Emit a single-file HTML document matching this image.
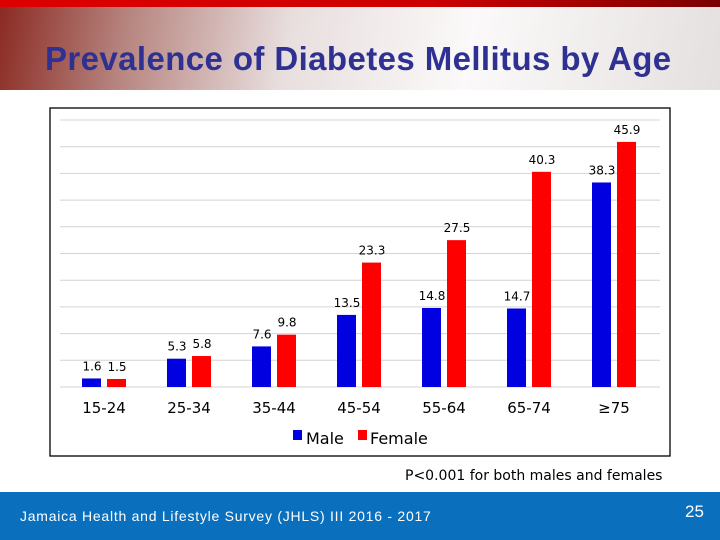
<!DOCTYPE html>
<html><head><meta charset="utf-8"><style>
body{margin:0;width:720px;height:540px;overflow:hidden;background:#fff;font-family:"Liberation Sans","DejaVu Sans",sans-serif;position:relative}
#hdr{position:absolute;left:0;top:0;width:720px;height:90px;background:linear-gradient(100deg,#8a2a22 0%,#b78580 18%,#e8dede 40%,#fbf9f9 65%,#e5e0e0 100%)}
#band{position:absolute;left:0;top:0;width:720px;height:7px;background:linear-gradient(90deg,#d00 0%,#c00 60%,#7a0000 100%)}
#title{position:absolute;left:45px;top:40px;font-size:33px;font-weight:bold;color:#2e3191;letter-spacing:0.4px;white-space:nowrap}
#foot{position:absolute;left:0;top:492px;width:720px;height:48px;background:#0a6fbd}
svg text{font-family:"DejaVu Sans","Liberation Sans",sans-serif}
</style></head><body>
<div id="hdr"></div>
<div id="band"></div>
<div id="title">Prevalence of Diabetes Mellitus by Age</div>
<svg id="chart" width="720" height="540" style="position:absolute;left:0;top:0">
<rect x="50" y="108" width="620" height="348" fill="#fff" stroke="#000" stroke-width="1.3"/>
<g id="grid"></g><g id="bars"></g><g id="labels"></g>
<rect x="293" y="430" width="9" height="10" fill="#0000e0"/>
<text x="306" y="444" font-size="16" fill="#000" font-family="Liberation Sans">Male</text>
<rect x="358" y="430" width="9" height="10" fill="#f00"/>
<text x="370" y="444" font-size="16" fill="#000" font-family="Liberation Sans">Female</text>
<text x="405" y="480" font-size="14" fill="#000">P&lt;0.001 for both males and females</text>
</svg>
<div id="foot">
<div style="position:absolute;left:20px;top:16px;color:#fff;font-size:14px;letter-spacing:0.75px">Jamaica Health and Lifestyle Survey (JHLS) III 2016 - 2017</div>
<div style="position:absolute;left:685px;top:10px;color:#fff;font-size:17px">25</div>
</div>
<script>
const categories=["15-24","25-34","35-44","45-54","55-64","65-74","\u226575"];
const male=[1.6,5.3,7.6,13.5,14.8,14.7,38.3];
const female=[1.5,5.8,9.8,23.3,27.5,40.3,45.9];
const yTicks=[0,5,10,15,20,25,30,35,40,45,50];
const NS="http://www.w3.org/2000/svg";
const base=387,top0=120,yMax=50;
function y(v){return base-(v/yMax)*(base-top0);}
function xc(i){return 104+i*85;}
function mk(t,a,p){const e=document.createElementNS(NS,t);for(const k in a)e.setAttribute(k,a[k]);p.appendChild(e);return e;}
const g=document.getElementById('grid'),b=document.getElementById('bars'),l=document.getElementById('labels');
yTicks.forEach(t=>{const e=mk('line',{x1:60,x2:660,y1:y(t),y2:y(t),stroke:'#d4d4d4','stroke-width':1},g);

});
categories.forEach((c,i)=>{
 const cx=xc(i);
 const m=mk('rect',{x:cx-22,y:y(male[i]),width:19,height:base-y(male[i]),fill:'#0000e0'},b);
 
 
 const f=mk('rect',{x:cx+3,y:y(female[i]),width:19,height:base-y(female[i]),fill:'#f00'},b);
 
 
 const ml=mk('text',{x:cx-12,y:y(male[i])-8,'font-size':12,'text-anchor':'middle',fill:'#000'},l);ml.textContent=male[i].toFixed(1);
 
 
 const fl=mk('text',{x:cx+13,y:y(female[i])-8,'font-size':12,'text-anchor':'middle',fill:'#000'},l);fl.textContent=female[i].toFixed(1);
 
 
 const cl=mk('text',{x:cx,y:413,'font-size':15,'text-anchor':'middle',fill:'#000'},l);cl.textContent=c;
 
 
});
</script>
</body></html>
